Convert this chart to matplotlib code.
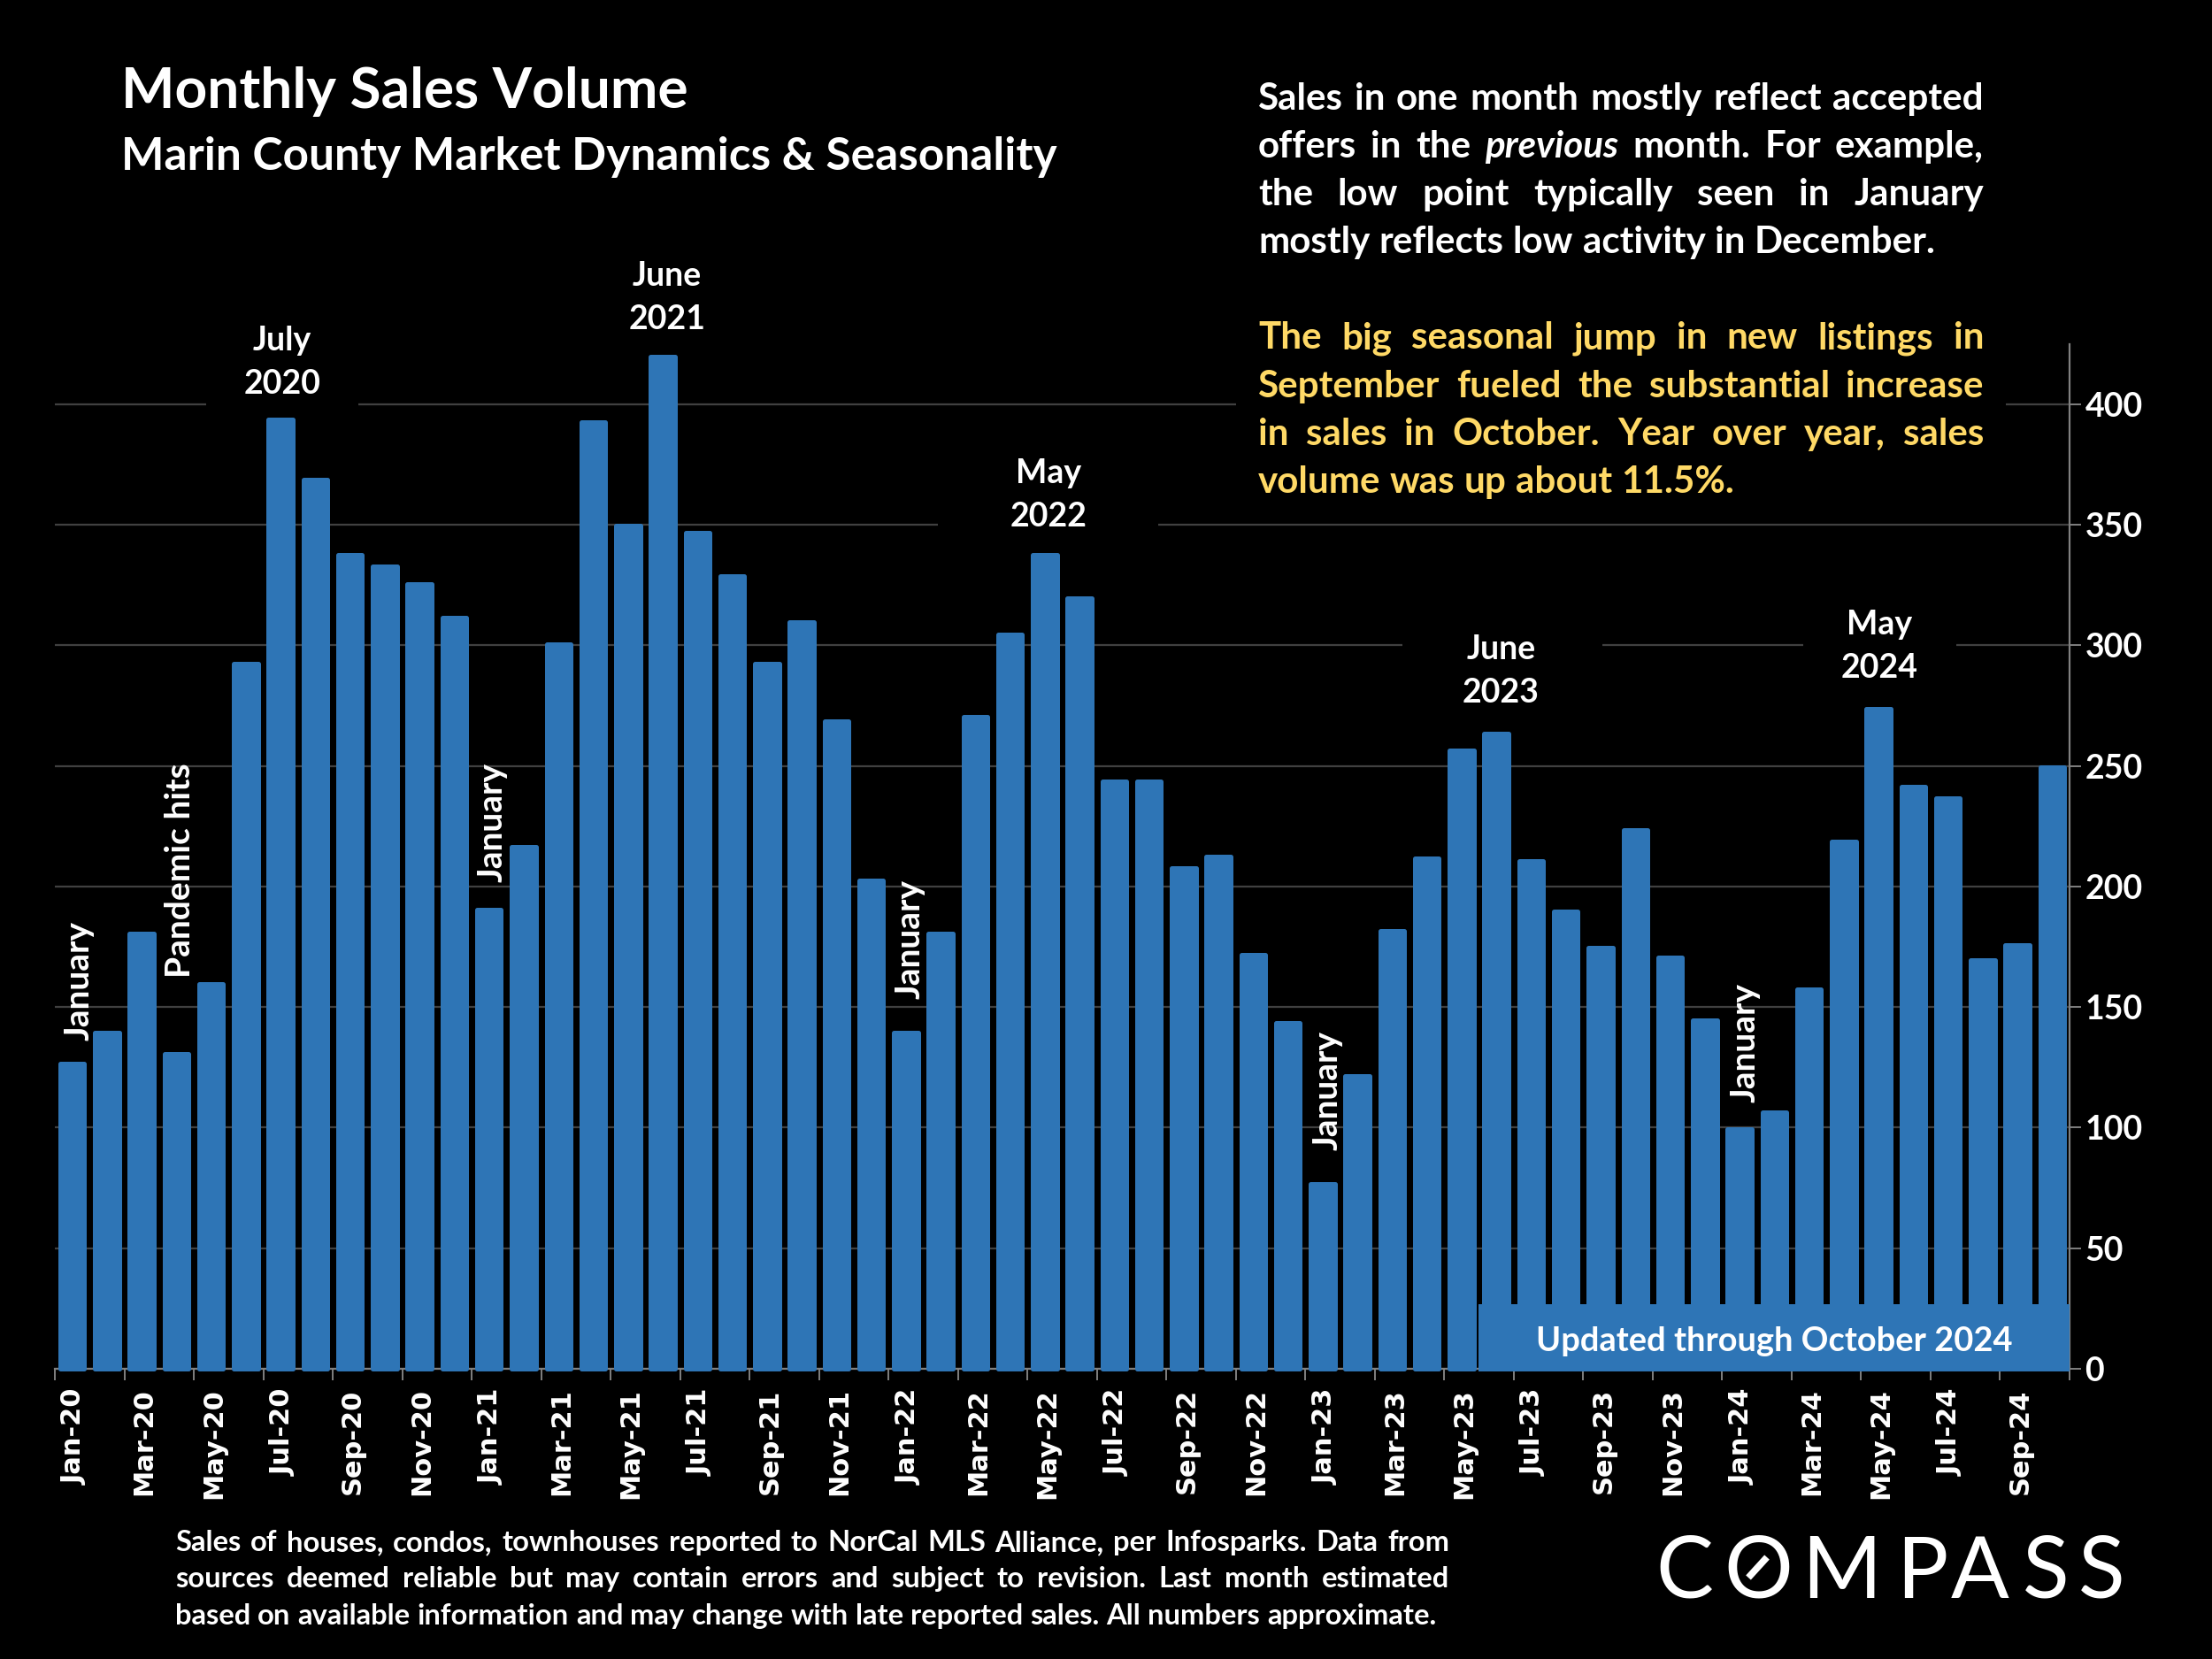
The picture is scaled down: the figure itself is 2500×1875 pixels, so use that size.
import matplotlib
matplotlib.use("Agg")
import matplotlib.pyplot as plt
from matplotlib.patches import Rectangle
from matplotlib.lines import Line2D
from matplotlib.transforms import ScaledTranslation

months = ["Jan","Feb","Mar","Apr","May","Jun","Jul","Aug","Sep","Oct","Nov","Dec"]
labels = [f"{months[i % 12]}-{20 + i // 12}" for i in range(58)]
sales = [127,140,181,131,160,293,394,369,338,333,326,312,
         191,217,301,393,350,420,347,329,293,310,269,203,
         140,181,271,305,338,320,244,244,208,213,172,144,
         77,122,182,212,257,264,211,190,175,224,171,145,
         100,107,158,219,274,242,237,170,176,250]
y_ticks = [0,50,100,150,200,250,300,350,400]

BLUE = "#2E75B6"; YEL = "#FFD966"; W = 2500; H = 1875
FONT = "Lato"
plt.rcParams["font.family"] = FONT
fig = plt.figure(figsize=(25, 18.75), dpi=100, facecolor="black")
rend = fig.canvas.get_renderer()
fx = lambda x: x / W
fy = lambda y: 1 - y / H

ax = fig.add_axes([fx(62), fy(1547), 2277 / W, (1547 - 389) / H], facecolor="black")
xs = list(range(58))
# round-joined outline gives the soft bar corners; the bar is inset slightly for the outline
EDGE_PT = 3.6
inset = (EDGE_PT * 100 / 72 / 4) / (1158 / 424.8)
ax.bar(xs, [v - inset for v in sales], width=0.70, color=BLUE, edgecolor=BLUE, linewidth=EDGE_PT,
       joinstyle="round", zorder=2, clip_on=False)
ax.set_xlim(-0.5, 57.5)
ax.set_ylim(0, 424.8)
ax.yaxis.tick_right()
ax.set_yticks(y_ticks)
ax.set_yticklabels([str(v) for v in y_ticks], fontsize=27, fontweight="bold", color="white")
ax.tick_params(axis="y", length=9.5, width=1.4, color="#808080", pad=3)
ax.set_xticks([i - 0.5 for i in range(0, 59, 2)])
ax.set_xticklabels([])
ax.set_xticks(xs[::2], minor=True)
ax.set_xticklabels(labels[::2], minor=True, rotation=90, fontsize=22, fontweight="bold",
                   family="DejaVu Sans", color="white", va="top", ha="center")
ax.tick_params(axis="x", which="major", length=9, width=1.4, color="#808080")
ax.tick_params(axis="x", which="minor", length=0, pad=16)
shift = ScaledTranslation(3 / 100, 0, fig.dpi_scale_trans)
for lab in ax.get_xticklabels(minor=True):
    lab.set_transform(lab.get_transform() + shift)
ax.yaxis.grid(True, color="#404040", linewidth=1.6, zorder=1)
ax.set_axisbelow(True)
for s in ("top", "left"):
    ax.spines[s].set_visible(False)
for s in ("bottom", "right"):
    ax.spines[s].set_color("#808080")
    ax.spines[s].set_linewidth(1.6)
    ax.spines[s].set_zorder(1.8)

# black masks: label boxes interrupt the gridlines, bars stay above them
masks = [(146,254,440,470),(876,1422,440,470),(665,821,580,606),(994,1136,715,745),(1278,1387,715,745)]
S = W / 1568
for x0, x1, y0, y1 in masks:
    x0p, x1p = x0 * S, x1 * S
    ax.add_patch(Rectangle((fx(x0p), fy(y1)), (x1p - x0p) / W, (y1 - y0) / H,
                           transform=fig.transFigure, facecolor="black", edgecolor="none",
                           zorder=1.5, clip_on=False))

def width_of(s, size=10, **kw):
    t = fig.text(0, 0, s, fontsize=size, **kw)
    w = t.get_window_extent(rend).width
    t.remove()
    return w

def fit(s, target, **kw):
    return 10 * target / width_of(s, 10, **kw)

def put(x, y, s, size, color="white", ha="left", va="baseline", **kw):
    kw.setdefault("fontweight", "bold")
    return fig.text(fx(x), fy(y), s, fontsize=size, color=color, ha=ha, va=va, **kw)

def justified(lines, x0, x1, ys, size, color):
    for line, y, just in zip(lines, ys, [True] * (len(lines) - 1) + [False]):
        words = [(w, "normal") for w in line.split()] if isinstance(line, str) else line
        wd = [width_of(w, size, fontweight="bold", fontstyle=st) for w, st in words]
        space = width_of("a b", size, fontweight="bold") - width_of("ab", size, fontweight="bold")
        gap = (x1 - x0 - sum(wd)) / (len(wd) - 1) if just else space
        x = x0
        for (w, st), d in zip(words, wd):
            put(x, y, w, size, color=color, fontstyle=st)
            x += d + gap

# headings
put(137, 122, "Monthly Sales Volume", fit("Monthly Sales Volume", 643, fontweight="bold"))
sub = "Marin County Market Dynamics & Seasonality"
put(137, 192, sub, fit(sub, 1057, fontweight="bold"))

# commentary
body = fit("volume was up about 11.5%.", 538, fontweight="bold")
l2 = [("offers","normal"),("in","normal"),("the","normal"),("previous","italic"),
      ("month.","normal"),("For","normal"),("example,","normal")]
justified(["Sales in one month mostly reflect accepted", l2,
           "the low point typically seen in January",
           "mostly reflects low activity in December."],
          1422, 2242, [124, 178, 232, 286], body, "white")
justified(["The big seasonal jump in new listings in",
           "September fueled the substantial increase",
           "in sales in October. Year over year, sales",
           "volume was up about 11.5%."],
          1422, 2242, [394, 449, 503, 557], body, YEL)

# peak labels
peaks = [("July","2020",200,256),("June","2021",473,210),("May","2022",743,350),
         ("June","2023",1064,475),("May","2024",1332,457)]
for a, b, cx, cy in peaks:
    for s, dy in ((a, -23), (b, 26)):
        put(cx * S, cy * S + dy, s, 27, ha="center", va="center")

# rotated labels
rot = [("January",54,695),("Pandemic hits",126,617),("January",347,583),
       ("January",643,666),("January",939,773),("January",1235,739)]
for s, cx, cy in rot:
    put(cx * S + 3, cy * S, s, 28, ha="center", va="center", rotation=90)

# banner
fig.add_artist(Rectangle((fx(1671), fy(1550)), (2339 - 1671) / W, 76 / H,
                         transform=fig.transFigure, facecolor=BLUE, edgecolor="none", zorder=2.5))
ban = "Updated through October 2024"
put(2005, 1516, ban, fit(ban, 540, fontweight="bold"), ha="center", va="center", zorder=4)

# footnote
foot = ["Sales of houses, condos, townhouses reported to NorCal MLS Alliance, per Infosparks. Data from",
        "sources deemed reliable but may contain errors and subject to revision. Last month estimated",
        "based on available information and may change with late reported sales. All numbers approximate."]
fs = fit(foot[2], 1430, fontweight="bold")
justified(foot, 198, 1638, [1753, 1794, 1836], fs, "white")

# logo
for ch, cx in zip("COMPASS", [1904, 1987.5, 2081, 2172, 2238, 2312, 2375]):
    put(cx, 1806, ch, 70, ha="center", fontweight="normal")
fig.add_artist(Line2D([fx(1976), fx(1997)], [fy(1783), fy(1760)], color="white",
                      linewidth=5.5, solid_capstyle="butt", transform=fig.transFigure, zorder=4))

fig.savefig("out.png", dpi=100, facecolor="black")
